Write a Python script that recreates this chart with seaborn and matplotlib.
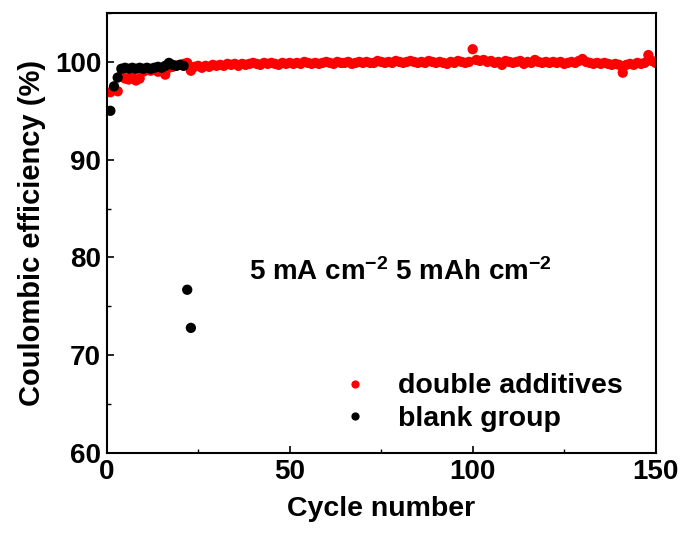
import matplotlib
matplotlib.use("Agg")
import matplotlib.pyplot as plt
import seaborn as sns
import pandas as pd
from matplotlib.ticker import MultipleLocator

red_values = [
    96.9, 97.2, 97.0, 98.6, 98.3, 98.2, 98.4, 98.1, 98.3, 99.0,
    99.2, 99.1, 99.3, 99.0, 99.2, 98.7, 99.4, 99.5, 99.6, 99.7,
    99.8, 99.9, 99.1, 99.5, 99.6, 99.4, 99.6, 99.5, 99.7, 99.6,
    99.7, 99.6, 99.8, 99.7, 99.8, 99.6, 99.8, 99.7, 99.8, 99.9,
    99.8, 99.7, 99.9, 99.8, 99.9, 99.8, 99.7, 99.9, 99.8, 99.9,
    99.8, 99.9, 99.8, 100.0, 99.9, 99.8, 99.9, 99.8, 99.9, 100.0,
    99.9, 99.8, 100.0, 99.9, 99.9, 100.0, 99.8, 99.9, 100.0, 99.9,
    100.0, 99.9, 99.9, 100.1, 100.0, 99.9, 100.0, 99.9, 100.1, 100.0,
    99.9, 100.0, 100.1, 100.0, 99.9, 100.0, 99.9, 100.1, 100.0, 99.9,
    100.0, 99.9, 99.8, 100.0, 99.9, 100.1, 100.0, 99.9, 100.0, 101.3,
    100.2, 100.1, 100.2, 100.0, 100.1, 99.9, 100.0, 99.7, 100.1, 100.0,
    99.9, 100.0, 100.1, 99.8, 100.0, 99.9, 100.2, 100.0, 99.9, 100.0,
    99.9, 100.0, 99.9, 100.0, 99.8, 99.9, 100.0, 99.9, 100.1, 100.3,
    100.0, 99.9, 99.8, 99.9, 99.8, 99.9, 99.8, 99.7, 99.8, 99.7,
    98.9, 99.7, 99.8, 99.7, 99.9, 99.8, 99.9, 100.7, 100.1, 99.9,
]
red_cycles = list(range(1, len(red_values) + 1))

black_values = [
    95.0, 97.5, 98.4, 99.3, 99.4, 99.3, 99.4, 99.3, 99.4, 99.3,
    99.4, 99.3, 99.4, 99.5, 99.4, 99.6, 99.9, 99.7, 99.6, 99.7,
    99.6, 76.7, 72.8,
]
black_cycles = list(range(1, len(black_values) + 1))

red_label = "double additives"
black_label = "blank group"

sns.set_style("ticks")
plt.rcParams["font.family"] = ["Liberation Sans", "DejaVu Sans"]
plt.rcParams["font.weight"] = "bold"
plt.rcParams["text.color"] = "black"
plt.rcParams["axes.labelcolor"] = "black"
plt.rcParams["xtick.color"] = "black"
plt.rcParams["ytick.color"] = "black"
plt.rcParams["mathtext.fontset"] = "custom"
plt.rcParams["mathtext.rm"] = "Liberation Sans:bold"
plt.rcParams["mathtext.bf"] = "Liberation Sans:bold"
plt.rcParams["mathtext.default"] = "bf"

df = pd.concat([
    pd.DataFrame({"cycle": red_cycles, "ce": red_values, "group": red_label}),
    pd.DataFrame({"cycle": black_cycles, "ce": black_values, "group": black_label}),
], ignore_index=True)

fig = plt.figure(figsize=(6.84, 5.43), dpi=100)
ax = fig.add_axes([0.156, 0.1657, 0.8026, 0.8103])

sns.scatterplot(data=df, x="cycle", y="ce", hue="group",
                palette={red_label: "#ff0000", black_label: "#000000"},
                s=55, linewidth=0, ax=ax, legend=True)

ax.set_xlim(0, 150)
ax.set_ylim(60, 105)
ax.xaxis.set_major_locator(MultipleLocator(50))
ax.xaxis.set_minor_locator(MultipleLocator(25))
ax.yaxis.set_major_locator(MultipleLocator(10))
ax.yaxis.set_minor_locator(MultipleLocator(5))
ax.tick_params(which="major", direction="in", length=5, width=1.2,
               labelsize=20, top=False, right=False, pad=4)
ax.tick_params(which="minor", direction="in", length=3, width=1.0,
               top=False, right=False)
for lab in ax.get_xticklabels() + ax.get_yticklabels():
    lab.set_fontweight("bold")
for sp in ax.spines.values():
    sp.set_visible(True)
    sp.set_linewidth(1.5)
    sp.set_color("black")

ax.set_xlabel("Cycle number", fontsize=20.5, fontweight="bold", labelpad=8)
ax.set_ylabel("Coulombic efficiency (%)", fontsize=21, fontweight="bold", labelpad=6)

ax.text(39.0, 78.5, r"5 mA cm$^{-2}$ 5 mAh cm$^{-2}$", fontsize=20,
        fontweight="bold", va="center", ha="left")

leg = ax.legend(loc="upper left", bbox_to_anchor=(0.354, 0.239), frameon=False,
                markerscale=0.8, handletextpad=0.5, labelspacing=0.22,
                borderpad=0.4, prop={"weight": "bold", "size": 20.5})

fig.savefig("out.png", dpi=100)
